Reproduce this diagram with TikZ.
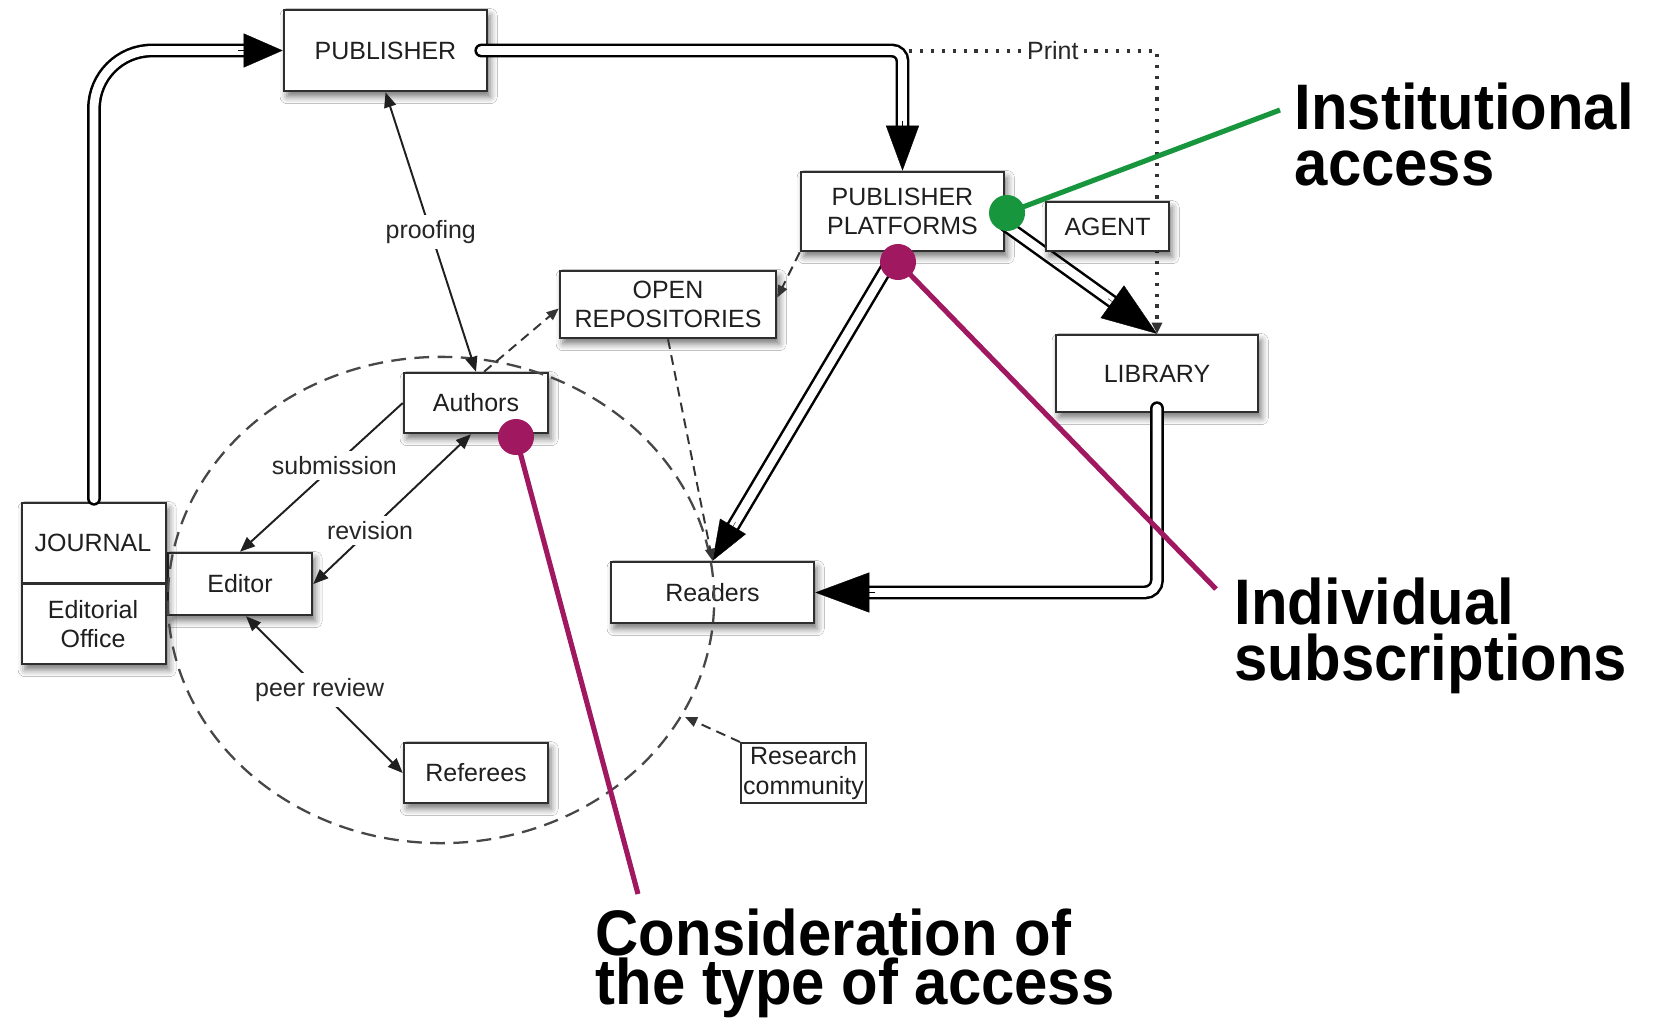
\documentclass[tikz,border=0pt]{standalone}
\usepackage{fontspec}
\setmainfont{Liberation Sans}
\newfontfamily\annfont{Liberation Sans}[FakeStretch=0.93]
\usetikzlibrary{arrows.meta,calc,shadows.blur}
\definecolor{anngreen}{RGB}{24,150,62}
\definecolor{annmag}{RGB}{160,24,96}
\newcommand\dgmfont{\fontsize{7.1}{8.3}\selectfont}
\newcommand\bigfontA{\annfont\bfseries\fontsize{18.3}{15.9}\selectfont\lineskiplimit=-20pt}
\newcommand\bigfontB{\annfont\bfseries\fontsize{18.3}{13.9}\selectfont\lineskiplimit=-20pt}
\begin{document}
\begin{tikzpicture}[x=0.01cm,y=-0.01cm,
  box/.style={draw=black!82, line width=0.7pt, fill=white, inner sep=0pt, align=center, font=\dgmfont, text=black!88,
    blur shadow={shadow xshift=0.9pt, shadow yshift=-1.6pt, shadow blur radius=2pt, shadow opacity=55}},
  plainbox/.style={draw=black!82, line width=0.55pt, fill=white, inner sep=0pt, align=center, font=\dgmfont, text=black!88},
  boxtext/.style={inner sep=0pt, align=center, font=\dgmfont, text=black!88},
  lbl/.style={fill=white, inner sep=1.5pt, font=\dgmfont, text=black!85},
  dbl/.style={draw=black, line width=0.72pt, double=white, double distance=2.5pt, line cap=round},
  lnk/.style={draw=black!88, line width=0.55pt},
  tipA/.style={-{Triangle[length=0.15cm,width=0.12cm]}},
  tipB/.style={{Triangle[length=0.15cm,width=0.12cm]}-{Triangle[length=0.15cm,width=0.12cm]}},
  dsh/.style={draw=black!80, line width=0.55pt, dash pattern=on 2.8pt off 1.8pt, -{Triangle[length=0.12cm,width=0.1cm]}},
  dots/.style={draw=black!80, line width=1pt, dash pattern=on 0.9pt off 2.2pt, -{Triangle[length=0.11cm,width=0.1cm]}},
  circ/.style={draw=black!72, line width=0.65pt, dash pattern=on 4.2pt off 2.4pt},
  annline/.style={line width=1.45pt},
  anndot/.style={circle, inner sep=0pt, minimum size=0.36cm},
  bigtxt/.style={inner sep=0pt, anchor=north west, align=left, text=black}
]
\fill[white] (0,0) rectangle (1664,1024);
\useasboundingbox (0,0) rectangle (1664,1024);

% boxes
\node[box, minimum width=2.03cm, minimum height=0.81cm] (pub) at (385.5,50.5) {PUBLISHER};
\node[box, minimum width=2.03cm, minimum height=0.79cm] (plat) at (902.5,211.5) {PUBLISHER\\PLATFORMS};
\node[box, minimum width=2.16cm, minimum height=0.67cm] (open) at (668,304.5) {OPEN\\REPOSITORIES};
\node[box, minimum width=2.02cm, minimum height=0.77cm] (lib) at (1157,373.5) {LIBRARY};
\node[box, minimum width=1.44cm, minimum height=0.60cm] (auth) at (476,403) {Authors};
\node[box, minimum width=1.44cm, minimum height=0.62cm] (edit) at (240,584) {Editor};
\node[box, minimum width=1.44cm, minimum height=0.60cm] (ref) at (476,773) {Referees};
\node[box, minimum width=2.03cm, minimum height=0.61cm] (read) at (712.5,592.5) {Readers};
\node[box, minimum width=1.44cm, minimum height=1.61cm] (jour) at (94,583.5) {};
\draw[draw=black!82, line width=0.7pt] (jour.west) -- (jour.east);
\node[boxtext] (jname) at (93,543) {JOURNAL};
\node[boxtext] (joff) at (93,624) {Editorial\\Office};
\node[plainbox, minimum width=1.25cm, minimum height=0.60cm] (res) at (803.5,773) {Research\\community};

% community circle
\draw[circ] (441,600) ellipse [x radius=2.73cm, y radius=2.43cm];

% double-line flows
\draw[dbl, rounded corners=16.5pt] ([yshift=0.03cm]jour.north) |- ([xshift=-0.36cm]pub.west);
\draw[line width=0.1pt, -{Triangle[length=0.39cm,width=0.34cm]}] ([xshift=-0.45cm]pub.west) -- (pub.west);

\draw[dbl, rounded corners=3pt] ([xshift=-0.07cm]pub.east) -| ([yshift=0.40cm]plat.north);
\draw[line width=0.1pt, -{Triangle[length=0.45cm,width=0.33cm]}] ([yshift=0.5cm]plat.north) -- (plat.north);

\coordinate (plS) at ([yshift=-0.135cm]plat.east);
\draw[dbl, shorten >=0.5cm] (plS) -- (lib.north);
\draw[line width=0.1pt, -{Triangle[length=0.55cm,width=0.40cm]}] ($(lib.north)!0.6cm!(plS)$) -- (lib.north);

\coordinate (plR) at ([xshift=-0.065cm]plat.south);
\draw[dbl, shorten >=0.36cm] (plR) -- (read.north);
\draw[line width=0.1pt, -{Triangle[length=0.40cm,width=0.30cm]}] ($(read.north)!0.45cm!(plR)$) -- (read.north);

\draw[dbl, rounded corners=3.5pt] ([yshift=0.05cm]lib.south) |- ([xshift=0.5cm]read.east);
\draw[line width=0.1pt, -{Triangle[length=0.54cm,width=0.40cm]}] ([xshift=0.6cm]read.east) -- (read.east);

% print (dotted)
\coordinate (prS) at (909,51);
\draw[dots] (prS) -| (lib.north) node[lbl, pos=0.29] (print) {Print};

% thin links
\draw[lnk, tipB] (pub.south) -- (auth.north) node[lbl, pos=0.5] (proof) {proofing};
\draw[lnk, tipA] (auth.west) -- (edit.north) node[lbl, pos=0.42] (subm) {submission};
\draw[lnk, tipB] (edit.east) -- ([xshift=-0.05cm]auth.south) node[lbl, pos=0.36] (revi) {revision};
\draw[lnk, tipB] ([xshift=0.06cm]edit.south) -- (ref.west) node[lbl, pos=0.47] (peer) {peer review};

% dashed flows
\draw[dsh] ([xshift=0.08cm]auth.north) -- ([yshift=-0.04cm]open.west);
\draw[dsh] (plat.south west) -- ([yshift=0.07cm]open.east);
\draw[dsh] (open.south) -- (read.north);
\coordinate (circR) at (685,717);
\draw[dsh] (res.north west) -- (circR);

% agent on top
\node[box, minimum width=1.23cm, minimum height=0.49cm] (agent) at (1107.5,226.5) {AGENT};

% annotations
\node[anndot, fill=annmag] (mdot1) at (898,262) {};
\node[anndot, fill=annmag] (mdot2) at (516,437) {};
\node[anndot, fill=anngreen] (gdot) at (1007,213) {};
\coordinate (gend) at (1280,110);
\coordinate (m1end) at (1216,589);
\coordinate (m2end) at (638,894);
\draw[annline, anngreen] (gdot.center) -- (gend);
\draw[annline, annmag] (mdot1.center) -- (m1end);
\draw[annline, annmag] (mdot2.center) -- (m2end);

\node[bigtxt, font=\bigfontA] (inst) at (1294,82) {Institutional\\access};
\node[bigtxt, font=\bigfontA] (indi) at (1234,577) {Individual\\subscriptions};
\node[bigtxt, font=\bigfontB] (cons) at (595,908) {Consideration of\\the type of access};
\end{tikzpicture}
\end{document}
